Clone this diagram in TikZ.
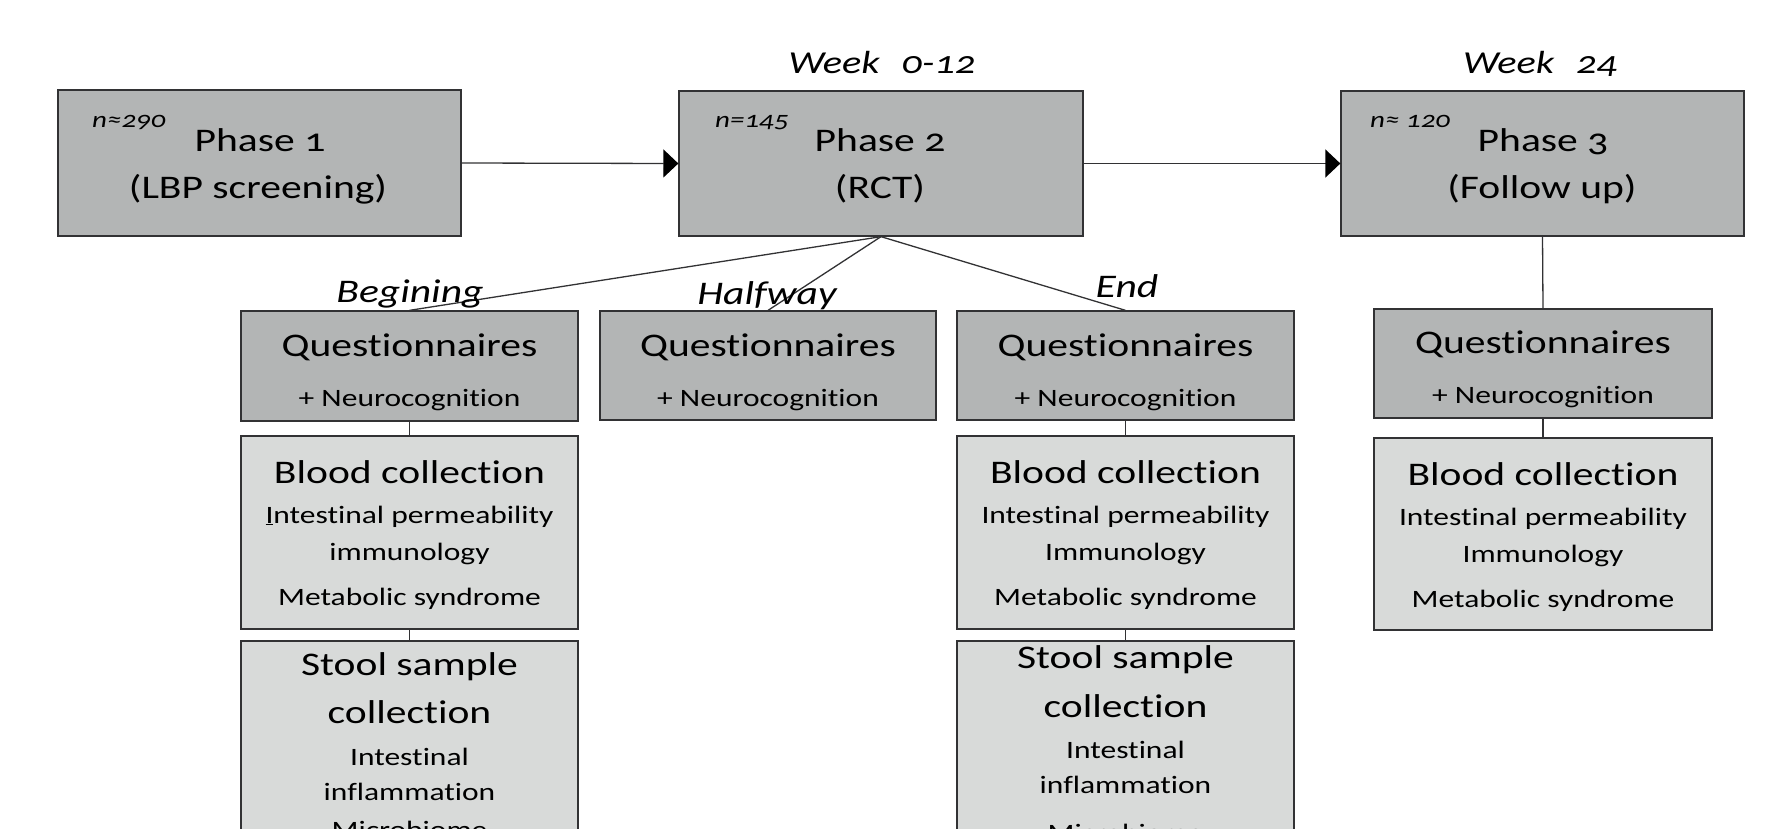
\documentclass[tikz,border=0pt]{standalone}
\usepackage{fontspec}
\setmainfont{Carlito}[FakeStretch=1.26, Numbers=OldStyle, Ligatures=NoCommon]
\usetikzlibrary{arrows.meta}
\newcommand\fsA{\fontsize{33}{40}\selectfont}
\newcommand\fsB{\fontsize{25}{30}\selectfont}
\newcommand\fsN{\fontsize{23}{27}\selectfont\itshape}
\newcommand\fsW{\fontsize{32}{38}\selectfont\itshape}
\newcommand\fsT{\fontsize{33}{40}\selectfont\itshape}
\definecolor{darkbox}{RGB}{179,181,181}
\definecolor{lightbox}{RGB}{216,218,217}
\definecolor{edge}{RGB}{50,50,52}
\tikzset{
  dbox/.style={draw=edge, line width=1.3pt, fill=darkbox, inner sep=0pt},
  lbox/.style={draw=edge, line width=1.3pt, fill=lightbox, inner sep=0pt},
  conn/.style={draw=edge, line width=1.3pt},
  arr/.style={conn, -{Triangle[length=15pt, width=28pt, color=black]}},
  txt/.style={anchor=base, inner sep=0pt},
}
\begin{document}
\begin{tikzpicture}[x=1pt, y=-1pt]
\useasboundingbox (0,0) rectangle (1769,828);
\clip (0,0) rectangle (1769,828);
% phase boxes
\node[dbox, minimum width=403pt, minimum height=146pt] (p1) at (259.5,163) {};
\node[dbox, minimum width=404pt, minimum height=145pt] (p2) at (881,163.5) {};
\node[dbox, minimum width=403pt, minimum height=145pt] (p3) at (1542.5,163.5) {};
% sub boxes
\node[dbox, minimum width=337pt, minimum height=110pt] (qb) at (409.5,366) {};
\node[dbox, minimum width=336pt, minimum height=109pt] (qh) at (768,365.5) {};
\node[dbox, minimum width=337pt, minimum height=109pt] (qe) at (1125.5,365.5) {};
\node[dbox, minimum width=338pt, minimum height=109pt] (q3) at (1543,363.5) {};
\node[lbox, minimum width=337pt, minimum height=193pt] (bb) at (409.5,532.5) {};
\node[lbox, minimum width=337pt, minimum height=193pt] (be) at (1125.5,532.5) {};
\node[lbox, minimum width=338pt, minimum height=192pt] (b3) at (1543,534) {};
\node[lbox, minimum width=337pt, minimum height=260pt] (sb) at (409.5,771) {};
\node[lbox, minimum width=337pt, minimum height=260pt] (se) at (1125.5,771) {};
% connectors
\draw[arr] (p1.east) -- (p2.west);
\draw[arr] (p2.east) -- (p3.west);
\draw[conn] (p2.south) -- (qb.north);
\draw[conn] (p2.south) -- (qh.north);
\draw[conn] (p2.south) -- (qe.north);
\draw[conn] (p3.south) -- (q3.north);
\draw[conn] (qb.south) -- (bb.north);
\draw[conn] (bb.south) -- (sb.north);
\draw[conn] (qe.south) -- (be.north);
\draw[conn] (be.south) -- (se.north);
\draw[conn] (q3.south) -- (b3.north);
% header labels
\node[txt, font=\fsW] (w1) at (882,73) {Week\hspace{0.4em} 0-12};
\node[txt, font=\fsW] (w2) at (1540,73) {Week\hspace{0.4em} 24};
% phase texts
\node[txt, anchor=base west, font=\fsN] (n1) at (92,127) {n≈290};
\node[txt, anchor=base west, font=\fsN] (n2) at (715,127) {n=145};
\node[txt, anchor=base west, font=\fsN] (n3) at (1370,127) {n≈ 120};
\node[txt, font=\fsA] (p1a) at (260,151) {Phase 1};
\node[txt, font=\fsA] (p1b) at (258,198) {(LBP screening)};
\node[txt, font=\fsA] (p2a) at (880,151) {Phase 2};
\node[txt, font=\fsA] (p2b) at (880,198) {(RCT)};
\node[txt, font=\fsA] (p3a) at (1543,151) {Phase 3};
\node[txt, font=\fsA] (p3b) at (1542,198) {(Follow up)};
% time labels
\node[txt, font=\fsT] (tb) at (410,302) {Begining};
\node[txt, font=\fsT] (th) at (767,304) {Halfway};
\node[txt, font=\fsT] (te) at (1127,297) {End};
% questionnaire texts
\node[txt, font=\fsA] (qb1) at (409.5,356) {Questionnaires};
\node[txt, font=\fsB] (qb2) at (409.5,406) {+ Neurocognition};
\node[txt, font=\fsA] (qh1) at (768,356) {Questionnaires};
\node[txt, font=\fsB] (qh2) at (768,406) {+ Neurocognition};
\node[txt, font=\fsA] (qe1) at (1125.5,356) {Questionnaires};
\node[txt, font=\fsB] (qe2) at (1125.5,406) {+ Neurocognition};
\node[txt, font=\fsA] (q31) at (1543,353) {Questionnaires};
\node[txt, font=\fsB] (q32) at (1543,403) {+ Neurocognition};
% blood texts
\node[txt, font=\fsA] (bb1) at (409.5,483) {Blood collection};
\node[txt, font=\fsB] (bb2) at (409.5,523) {\underline{I}ntestinal permeability};
\node[txt, font=\fsB] (bb3) at (409.5,560) {immunology};
\node[txt, font=\fsB] (bb4) at (409.5,605) {Metabolic syndrome};
\node[txt, font=\fsA] (be1) at (1125.5,483) {Blood collection};
\node[txt, font=\fsB] (be2) at (1125.5,523) {Intestinal permeability};
\node[txt, font=\fsB] (be3) at (1125.5,560) {Immunology};
\node[txt, font=\fsB] (be4) at (1125.5,605) {Metabolic syndrome};
\node[txt, font=\fsA] (b31) at (1543,485) {Blood collection};
\node[txt, font=\fsB] (b32) at (1543,525) {Intestinal permeability};
\node[txt, font=\fsB] (b33) at (1543,562) {Immunology};
\node[txt, font=\fsB] (b34) at (1543,607) {Metabolic syndrome};
% stool texts
\node[txt, font=\fsA] (sb1) at (409.5,675) {Stool sample};
\node[txt, font=\fsA] (sb2) at (409.5,723) {collection};
\node[txt, font=\fsB] (sb3) at (409.5,765) {Intestinal};
\node[txt, font=\fsB] (sb4) at (409.5,800) {inflammation};
\node[txt, font=\fsB] (sb5) at (409.5,838) {Microbiome};
\node[txt, font=\fsA] (se1) at (1125.5,668) {Stool sample};
\node[txt, font=\fsA] (se2) at (1125.5,717) {collection};
\node[txt, font=\fsB] (se3) at (1125.5,758) {Intestinal};
\node[txt, font=\fsB] (se4) at (1125.5,793) {inflammation};
\node[txt, font=\fsB] (se5) at (1125.5,841) {Microbiome};
\end{tikzpicture}
\end{document}
